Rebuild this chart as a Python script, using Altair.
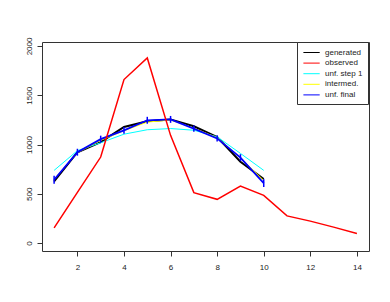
import altair as alt
import pandas as pd

# ---- data ----
x_obs = [1, 2, 3, 4, 5, 6, 7, 8, 9, 10, 11, 12, 13, 14]
observed = [155, 515, 873, 1659, 1878, 1093, 512, 444, 579, 484, 276, 223, 162, 98]

x_unf = [1, 2, 3, 4, 5, 6, 7, 8, 9, 10]
generated = [625, 922, 1025, 1178, 1235, 1255, 1185, 1076, 825, 650]
unf_step1 = [738, 938, 1018, 1105, 1150, 1162, 1145, 1078, 910, 738]
intermed = [648, 918, 1042, 1140, 1228, 1248, 1168, 1068, 868, 635]
unf_final = [643, 922, 1055, 1144, 1246, 1255, 1161, 1062, 867, 609]
final_err = [40, 35, 35, 35, 35, 35, 32, 32, 35, 40]

series_names = ["generated", "observed", "unf. step 1", "intermed.", "unf. final"]
series_colors = ["#000000", "#FF0000", "#00FFFF", "#FFFF00", "#0000FF"]
series_widths = {"generated": 2.0, "observed": 1.5, "unf. step 1": 1.0,
                 "intermed.": 1.0, "unf. final": 1.8}

x_ticks = [2, 4, 6, 8, 10, 12, 14]
y_ticks = [0, 500, 1000, 1500, 2000]

# ---- tables ----
rows = []
draw_order = [("generated", x_unf, generated), ("unf. step 1", x_unf, unf_step1),
              ("intermed.", x_unf, intermed), ("unf. final", x_unf, unf_final),
              ("observed", x_obs, observed)]
for k, (name, xs, ys) in enumerate(draw_order):
    for x, y in zip(xs, ys):
        rows.append({"x": x, "y": y, "series": name, "w": series_widths[name], "o": k})
df = pd.DataFrame(rows)

err = pd.DataFrame({"x": x_unf,
                    "lo": [v - e for v, e in zip(unf_final, final_err)],
                    "hi": [v + e for v, e in zip(unf_final, final_err)]})

font = "Liberation Sans"
xscale = alt.Scale(domain=[0.48, 14.52], nice=False, zero=False)
yscale = alt.Scale(domain=[-80, 2040], nice=False, zero=False)

xaxis = alt.Axis(values=x_ticks, title=None, grid=False, domain=False, format="d",
                 tickSize=5, tickColor="#333", labelFont=font, labelFontSize=8,
                 labelColor="#222", labelPadding=7, labelBaseline="top")
yaxis = alt.Axis(values=y_ticks, title=None, grid=False, domain=False, format="d",
                 tickSize=5, tickColor="#333", labelFont=font, labelFontSize=8,
                 labelColor="#222", labelAngle=-90, labelAlign="center",
                 labelBaseline="bottom", labelPadding=4)

lines = alt.Chart(df).mark_line().encode(
    x=alt.X("x:Q", scale=xscale, axis=xaxis),
    y=alt.Y("y:Q", scale=yscale, axis=yaxis),
    color=alt.Color("series:N",
                    scale=alt.Scale(domain=series_names, range=series_colors),
                    legend=alt.Legend(
                        title=None, orient="none", legendX=255, legendY=0,
                        strokeColor="#333", padding=5, rowPadding=0.6,
                        symbolType="M-0.82,0H2.44", symbolSize=100,
                        symbolStrokeWidth=1, labelOffset=12,
                        labelFont=font, labelFontSize=8, labelColor="#222",
                        fillColor="white")),
    strokeWidth=alt.StrokeWidth("w:Q", scale=None, legend=None),
    order=alt.Order("o:Q"),
    detail="series:N",
)

bars = alt.Chart(err).mark_rule(color="#0000FF", strokeWidth=1.5).encode(
    x=alt.X("x:Q", scale=xscale),
    y=alt.Y("lo:Q", scale=yscale),
    y2="hi:Q",
)

chart = alt.layer(lines, bars).properties(
    width=327, height=209,
    autosize=alt.AutoSizeParams(type="none"),
    padding={"left": 34, "top": 34, "right": 13, "bottom": 43},
).configure(background="white").configure_view(stroke="#333", strokeWidth=1)

chart.save("out.html", embed_options={"renderer": "svg", "actions": False})
